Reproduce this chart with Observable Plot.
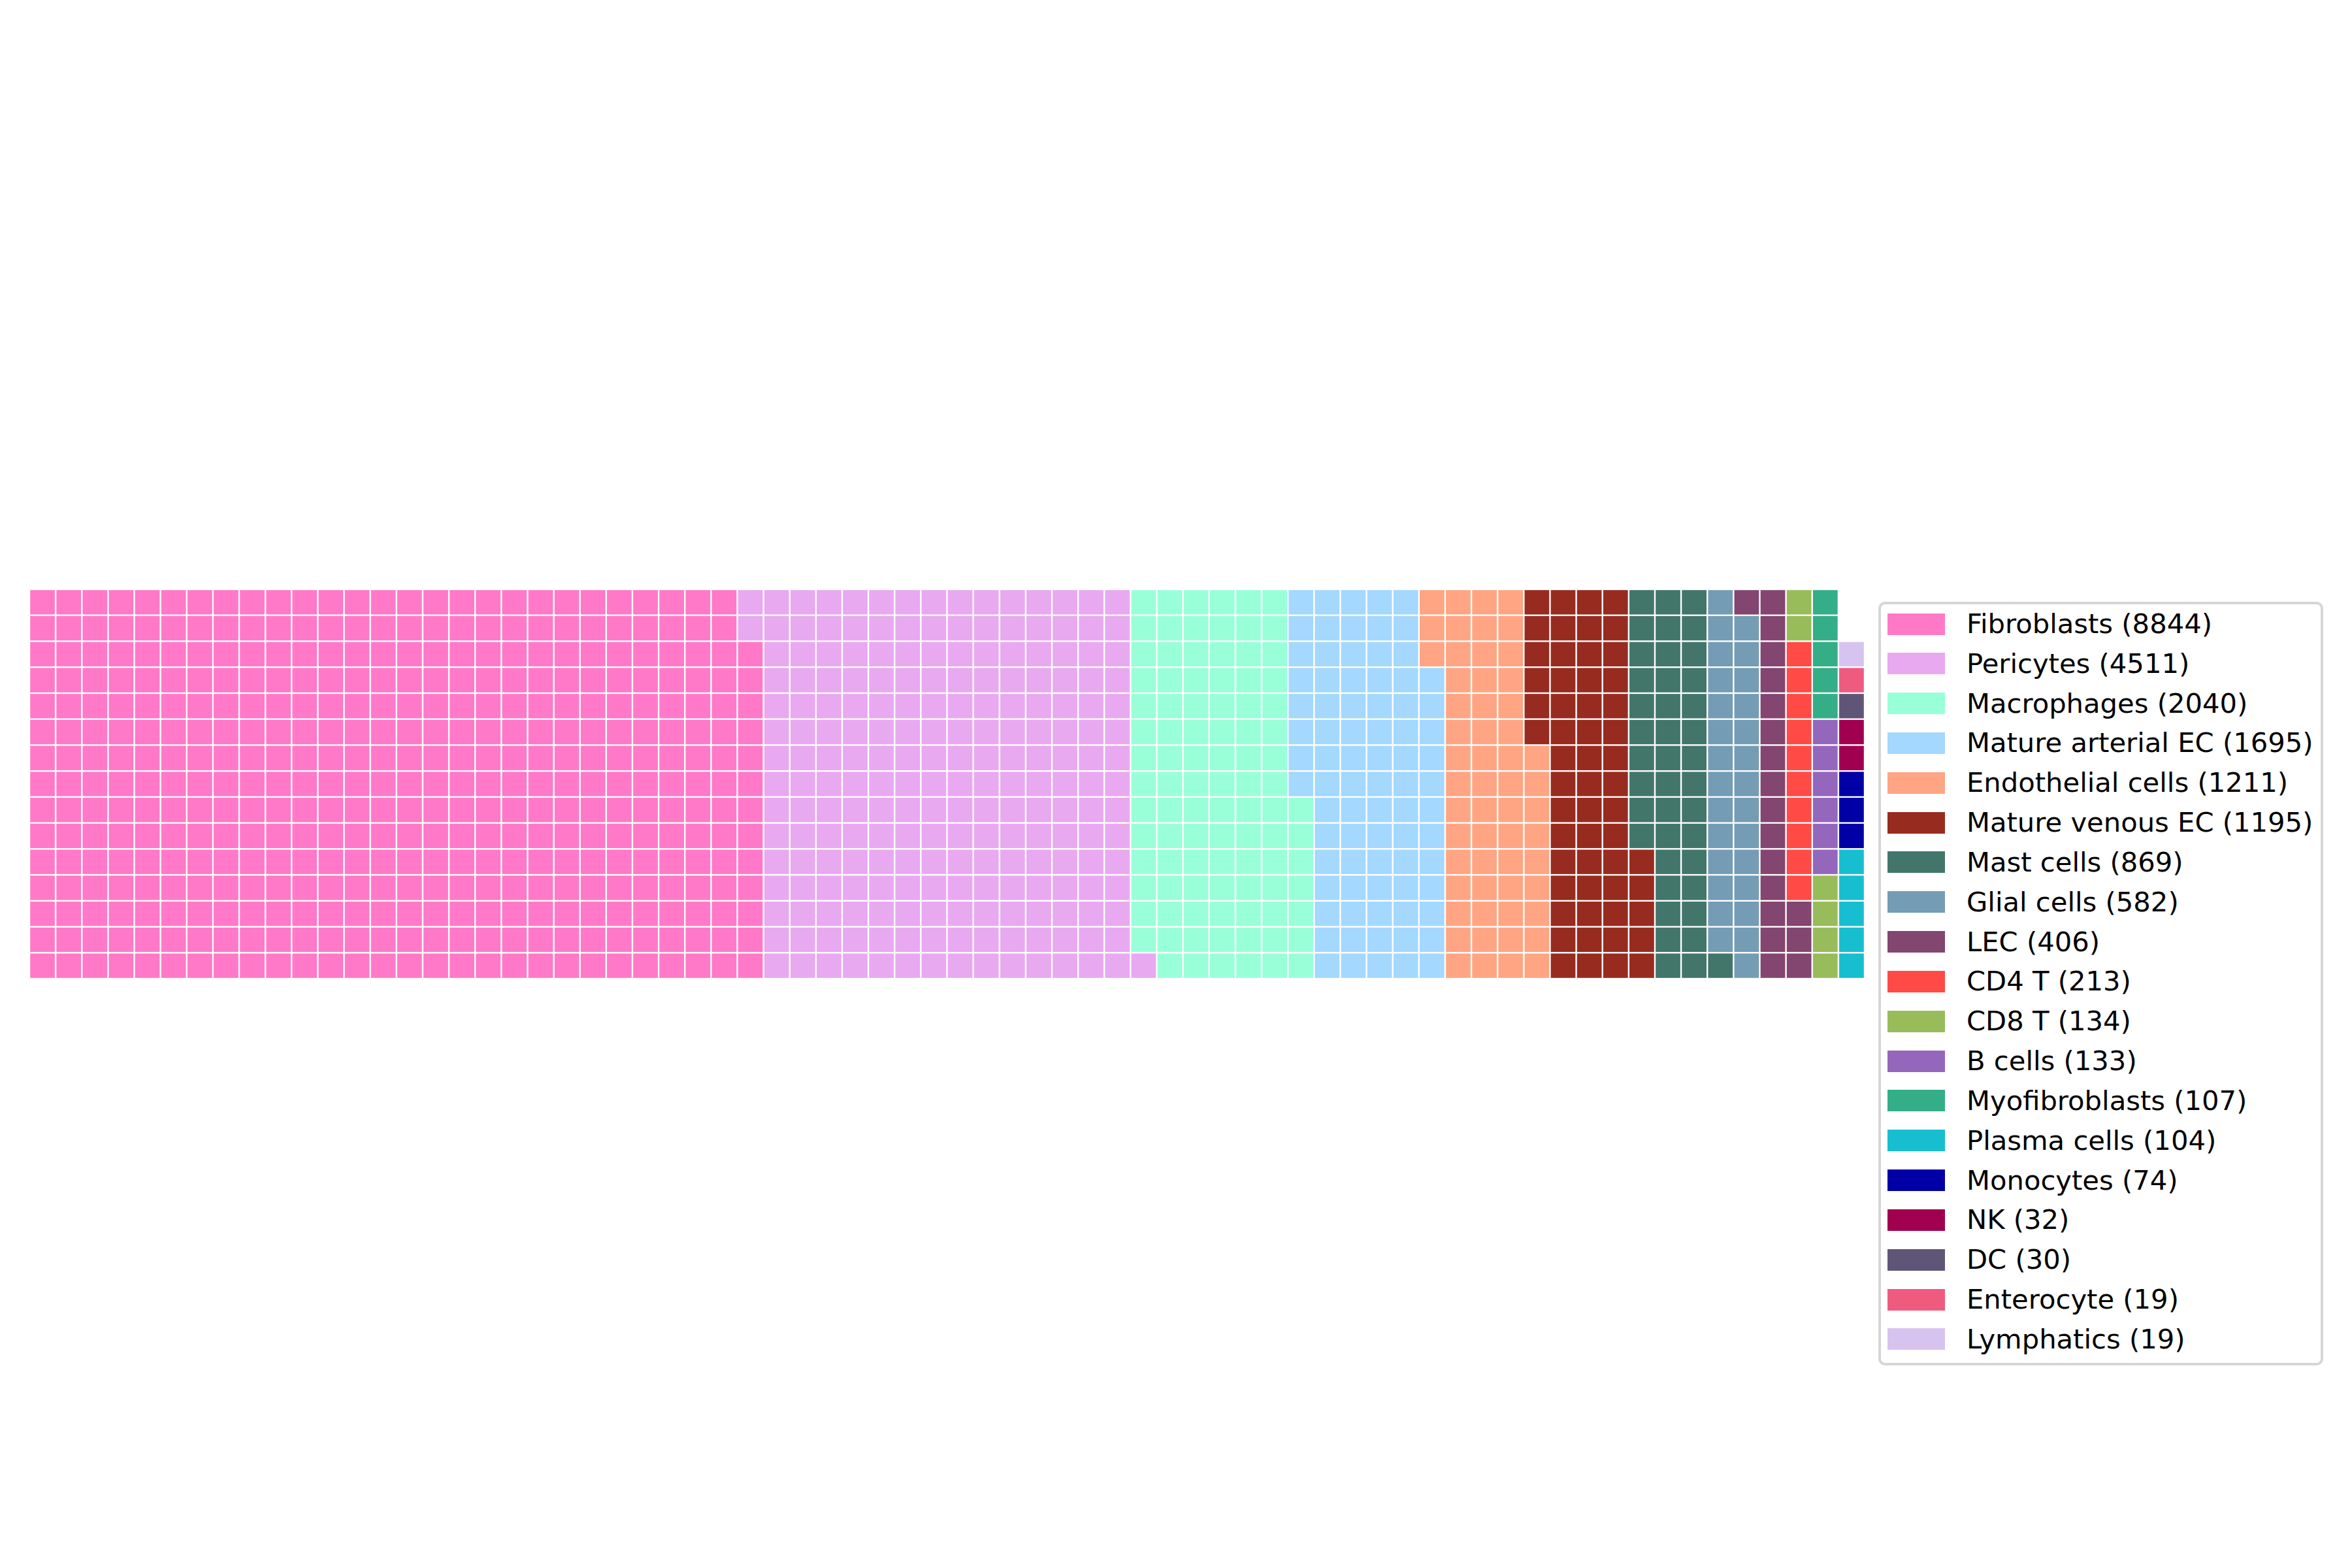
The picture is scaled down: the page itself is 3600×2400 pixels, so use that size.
<!DOCTYPE html>
<html><head><meta charset="utf-8">
<script src="https://cdn.jsdelivr.net/npm/d3@7"></script>
<script src="https://cdn.jsdelivr.net/npm/@observablehq/plot@0.6"></script>
<style>
html,body{margin:0;padding:0;background:#fff;}
#wrap{position:relative;width:3600px;height:2400px;font-family:"DejaVu Sans",sans-serif;overflow:hidden;}
#wrap svg{position:absolute;left:0;top:0;}
.lgbox{position:absolute;box-sizing:border-box;border:4px solid #d6d6d6;border-radius:10px;background:rgba(255,255,255,0.8);}
.sw{position:absolute;}
.lt{position:absolute;font-size:41.7px;line-height:50px;white-space:nowrap;color:#000;}
</style></head><body><div id="wrap"></div>
<script>
// Cell type names (legend order)
const categories = ["Fibroblasts","Pericytes","Macrophages","Mature arterial EC","Endothelial cells","Mature venous EC","Mast cells","Glial cells","LEC","CD4 T","CD8 T","B cells","Myofibroblasts","Plasma cells","Monocytes","NK","DC","Enterocyte","Lymphatics"];
// Counts shown in legend
const counts = [8844,4511,2040,1695,1211,1195,869,582,406,213,134,133,107,104,74,32,30,19,19];
// Number of waffle blocks per category
const blocks = [418,213,96,80,57,56,41,28,19,10,6,6,5,5,3,2,1,1,1];
// Colours
const colors = ["#FF79C8","#E8A9F1","#99FFD9","#A4D8FE","#FFA584","#982B1F","#43766B","#749CB5","#834670","#FF4A46","#99BC5A","#9467BD","#34AE86","#17BECF","#0000A6","#A10050","#5F5677","#EF5B7E","#D7C3F0"];
const nRows = 15, nCols = 70;

const labels = categories.map((c, i) => `${c} (${counts[i]})`);
const cells = [];
let idx = 0;
blocks.forEach((n, i) => {
  for (let k = 0; k < n; k++, idx++) {
    cells.push({label: labels[i], col: Math.floor(idx / nRows), row: idx % nRows});
  }
});

const chart = Plot.plot({
  width: 3600, height: 2400,
  marginLeft: 45, marginRight: 746, marginTop: 902, marginBottom: 902,
  x: {domain: [0, nCols], axis: null},
  y: {domain: [0, nRows], axis: null},
  color: {domain: labels, range: colors},
  style: {background: "white"},
  marks: [
    Plot.rect(cells, {x1: "col", x2: d => d.col + 1, y1: "row", y2: d => d.row + 1, fill: "label", inset: 1.2})
  ]
});
const wrap = document.getElementById("wrap");
wrap.appendChild(chart);

// Legend (outside the SVG)
const box = document.createElement("div");
box.className = "lgbox";
Object.assign(box.style, {left: "2875px", top: "921px", width: "681px", height: "1169px"});
wrap.appendChild(box);
labels.forEach((lab, i) => {
  const cy = 955 + i * 60.83;
  const sw = document.createElement("div");
  sw.className = "sw";
  Object.assign(sw.style, {left: "2889px", top: (cy - 16.5) + "px", width: "88px", height: "33px", background: colors[i]});
  wrap.appendChild(sw);
  const t = document.createElement("div");
  t.className = "lt";
  t.textContent = lab;
  Object.assign(t.style, {left: "3010px", top: (cy - 25) + "px"});
  wrap.appendChild(t);
});
</script>
</body></html>
